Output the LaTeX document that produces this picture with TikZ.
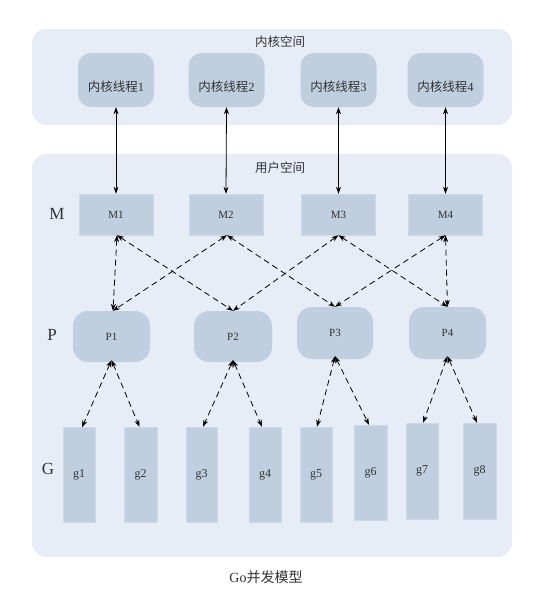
\documentclass[tikz,border=0pt]{standalone}
\usepackage{fontspec}
\setmainfont{Liberation Serif}
\newfontfamily\cjk{Noto Sans CJK SC}
\usetikzlibrary{arrows.meta}
\definecolor{panelbg}{RGB}{231,237,247}
\definecolor{boxbg}{RGB}{191,207,224}
\definecolor{txt}{RGB}{50,50,50}
\begin{document}
\begin{tikzpicture}[x=1pt,y=-1pt,
  panel/.style={fill=panelbg,draw=none,rounded corners=14pt,inner sep=0pt},
  ktbox/.style={fill=boxbg,draw=none,rounded corners=13pt,minimum width=76pt,minimum height=54pt,inner sep=0pt,font=\fontsize{12.5}{14}\selectfont,text=txt},
  mbox/.style={fill=boxbg,draw=boxbg!80!white,minimum width=74pt,minimum height=41pt,inner sep=0pt,font=\fontsize{11}{13}\selectfont,text=txt},
  pbox/.style={fill=boxbg,draw=none,rounded corners=15pt,minimum width=77pt,minimum height=51pt,inner sep=0pt,font=\fontsize{11}{13}\selectfont,text=txt},
  gbox/.style={fill=boxbg,draw=boxbg!80!white,minimum width=32pt,minimum height=95pt,inner sep=0pt,font=\fontsize{12}{14}\selectfont,text=txt},
  sidelabel/.style={font=\fontsize{17}{19}\selectfont,text=txt},
  title/.style={font=\cjk\fontsize{12.5}{14}\selectfont,text=txt},
  solidarrow/.style={{Stealth[length=7pt,width=5pt]}-{Stealth[length=7pt,width=5pt]},line width=0.8pt,black},
  dasharrow/.style={{Stealth[length=7pt,width=5pt]}-{Stealth[length=7pt,width=5pt]},line width=0.8pt,black,dash pattern=on 6pt off 4pt}
]
\useasboundingbox (0,0) rectangle (551,603);
\fill[white] (0,0) rectangle (551,603);

% panels
\node[panel,minimum width=480pt,minimum height=96pt] (kpanel) at (272,77) {};
\node[panel,minimum width=480pt,minimum height=403pt] (upanel) at (272,355.5) {};
\node[title] (ktitle) at (280,42) {内核空间};
\node[title] (utitle) at (280,168) {用户空间};

% kernel threads
\node[ktbox] (k1) at (116,80) {\raisebox{-11pt}[0pt][0pt]{{\cjk 内核线程}1}};
\node[ktbox] (k2) at (226.5,80) {\raisebox{-11pt}[0pt][0pt]{{\cjk 内核线程}2}};
\node[ktbox] (k3) at (338.5,80) {\raisebox{-11pt}[0pt][0pt]{{\cjk 内核线程}3}};
\node[ktbox] (k4) at (445.5,80) {\raisebox{-11pt}[0pt][0pt]{{\cjk 内核线程}4}};

% side labels
\node[sidelabel] (lm) at (57,214) {M};
\node[sidelabel] (lp) at (52,335) {P};
\node[sidelabel] (lg) at (48,469) {G};

% M
\node[mbox] (m1) at (116,214.5) {M1};
\node[mbox] (m2) at (226,214.5) {M2};
\node[mbox] (m3) at (338.5,214.5) {M3};
\node[mbox] (m4) at (445.5,214.5) {M4};

% P
\node[pbox] (p1) at (111.5,336.5) {P1};
\node[pbox,minimum width=78pt] (p2) at (233,336.5) {P2};
\node[pbox,minimum width=76pt,minimum height=52pt] (p3) at (335,333) {P3};
\node[pbox,minimum height=52pt] (p4) at (447.5,333) {P4};

% G
\node[gbox] (g1) at (79,475) {g1};
\node[gbox,minimum width=33pt] (g2) at (140.5,474.5) {g2};
\node[gbox,minimum width=31pt] (g3) at (201.5,474.5) {g3};
\node[gbox] (g4) at (265,474.5) {g4};
\node[gbox] (g5) at (316,474.5) {g5};
\node[gbox,minimum width=33pt] (g6) at (370.5,472.5) {g6};
\node[gbox,minimum height=96pt] (g7) at (422,471) {g7};
\node[gbox,minimum width=33pt,minimum height=96pt] (g8) at (479.5,471) {g8};

% caption
\node[font=\fontsize{14}{16}\selectfont,text=txt] (cap) at (266,577) {Go{\cjk 并发模型}};

% kernel <-> M
\draw[solidarrow] (k1.south) -- (m1.north);
\draw[solidarrow] (k2.south) -- (m2.north);
\draw[solidarrow] (k3.south) -- (m3.north);
\draw[solidarrow] (k4.south) -- (m4.north);

% M <-> P
\draw[dasharrow] ([xshift=1pt]m1.south) -- ([xshift=1.5pt]p1.north);
\draw[dasharrow] ([xshift=1pt]m1.south) -- (p2.north);
\draw[dasharrow] ([xshift=1pt]m2.south) -- ([xshift=1.5pt]p1.north);
\draw[dasharrow] ([xshift=1pt]m2.south) -- (p3.north);
\draw[dasharrow] (m3.south) -- (p2.north);
\draw[dasharrow] (m3.south) -- (p4.north);
\draw[dasharrow] (m4.south) -- (p3.north);
\draw[dasharrow] (m4.south) -- (p4.north);

% P <-> G
\draw[dasharrow] ([yshift=2pt]p1.south) -- ([xshift=3pt]g1.north);
\draw[dasharrow] ([yshift=2pt]p1.south) -- ([xshift=-1pt]g2.north);
\draw[dasharrow] ([yshift=2pt]p2.south) -- ([xshift=1.5pt]g3.north);
\draw[dasharrow] ([yshift=2pt]p2.south) -- ([xshift=-3pt]g4.north);
\draw[dasharrow] ([yshift=3pt]p3.south) -- ([xshift=1pt]g5.north);
\draw[dasharrow] ([yshift=3pt]p3.south) -- ([xshift=-1.5pt]g6.north);
\draw[dasharrow] ([yshift=3pt]p4.south) -- ([xshift=1pt]g7.north);
\draw[dasharrow] ([yshift=3pt]p4.south) -- ([xshift=-2.5pt]g8.north);
\end{tikzpicture}
\end{document}
